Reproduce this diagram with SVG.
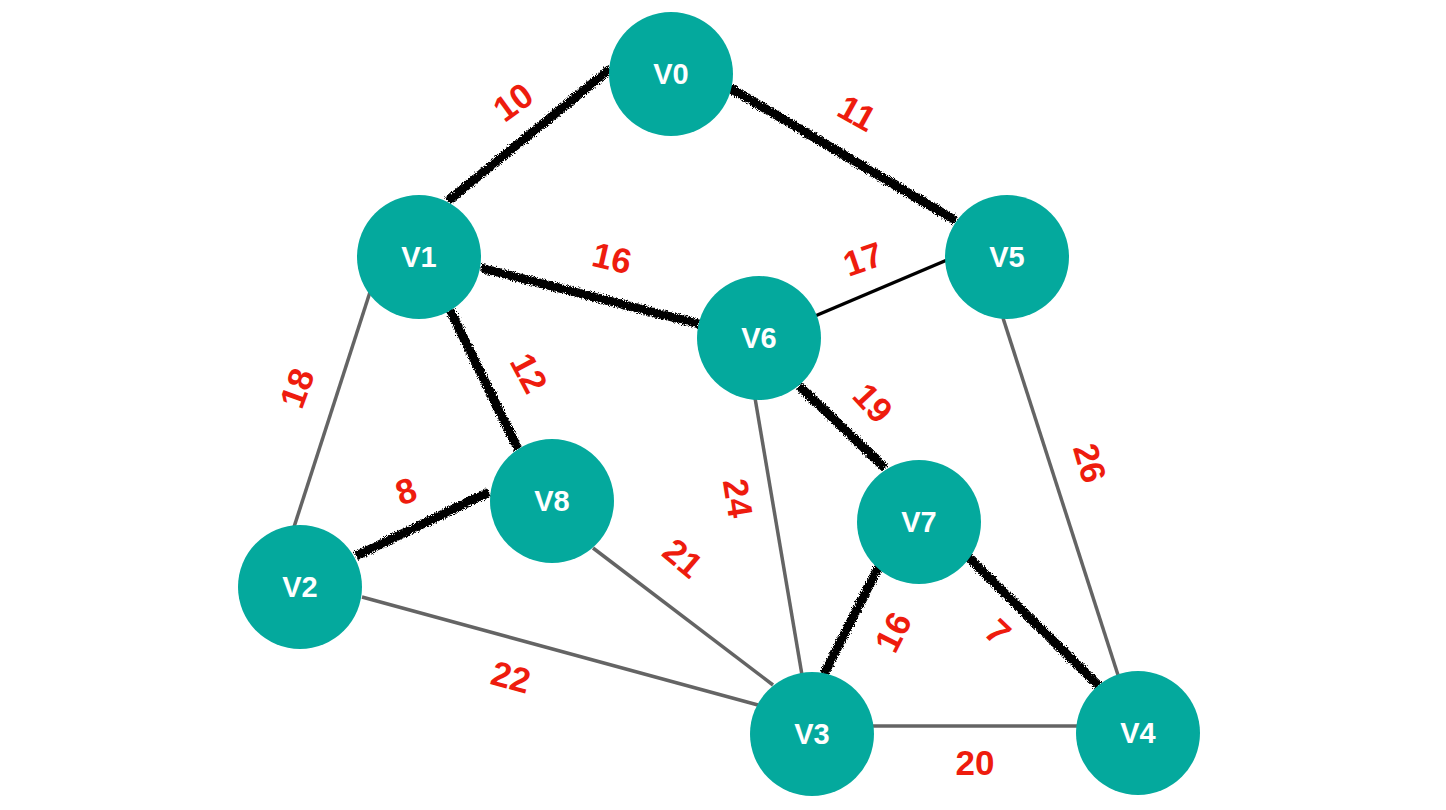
<svg xmlns="http://www.w3.org/2000/svg" width="1446" height="810" viewBox="0 0 1446 810">
<style>
.node circle{fill:#04a99d}
.node text{fill:#fff;font-family:"Liberation Sans",Arial,sans-serif;font-weight:bold;font-size:29px;text-anchor:middle}
.gray{stroke:#646464;stroke-width:3.5;fill:none}
.thin{stroke:#000;stroke-width:3.5;fill:none}
.mst{stroke:#000;stroke-width:9;fill:none;filter:url(#rough)}
.lbl{fill:#ee1c0e;font-family:"Liberation Sans",Arial,sans-serif;font-weight:bold;font-size:35px;text-anchor:middle}
</style>
<defs>
<filter id="rough" filterUnits="userSpaceOnUse" x="0" y="0" width="1446" height="810">
<feTurbulence type="fractalNoise" baseFrequency="1.1" numOctaves="2" seed="3" result="n"/>
<feDisplacementMap in="SourceGraphic" in2="n" scale="6" xChannelSelector="R" yChannelSelector="G"/>
</filter>
</defs>
<rect width="1446" height="810" fill="#fff"/>
<g id="connectors">
<line class="gray" x1="371" y1="289" x2="294" y2="527"/>
<line class="gray" x1="362" y1="597" x2="758" y2="705"/>
<line class="gray" x1="593" y1="548" x2="773" y2="685"/>
<line class="gray" x1="755" y1="398" x2="802" y2="675"/>
<line class="gray" x1="1003" y1="318" x2="1118" y2="675"/>
<line class="gray" x1="872" y1="726" x2="1078" y2="726"/>
<line class="thin" x1="815" y1="316" x2="947" y2="260"/>
<line class="mst" x1="610" y1="69" x2="448" y2="201"/>
<line class="mst" x1="730" y1="88" x2="956" y2="221"/>
<line class="mst" x1="481" y1="268" x2="699" y2="324"/>
<line class="mst" x1="450" y1="310" x2="518" y2="449"/>
<line class="mst" x1="489" y1="492" x2="356" y2="556"/>
<line class="mst" x1="799" y1="386" x2="885" y2="468"/>
<line class="mst" x1="879" y1="566" x2="824" y2="674"/>
<line class="mst" x1="968" y1="557" x2="1099" y2="686"/>
</g>
<g id="labels">
<text class="lbl" dy="0.35em" transform="translate(513,102) rotate(-36)">10</text>
<text class="lbl" dy="0.35em" transform="translate(857,113) rotate(29)">11</text>
<text class="lbl" dy="0.35em" transform="translate(612,258) rotate(13)">16</text>
<text class="lbl" dy="0.35em" transform="translate(863,259) rotate(-19)">17</text>
<text class="lbl" dy="0.35em" transform="translate(529,373) rotate(62)">12</text>
<text class="lbl" dy="0.35em" transform="translate(297,388) rotate(-70)">18</text>
<text class="lbl" dy="0.35em" transform="translate(406,491) rotate(-19)">8</text>
<text class="lbl" dy="0.35em" transform="translate(683,558) rotate(40)">21</text>
<text class="lbl" dy="0.35em" transform="translate(738,498) rotate(81)">24</text>
<text class="lbl" dy="0.35em" transform="translate(873,403) rotate(47)">19</text>
<text class="lbl" dy="0.35em" transform="translate(1090,463) rotate(74)">26</text>
<text class="lbl" dy="0.35em" transform="translate(893,632) rotate(-63)">16</text>
<text class="lbl" dy="0.35em" transform="translate(998,632) rotate(44)">7</text>
<text class="lbl" dy="0.35em" transform="translate(511,677) rotate(15)">22</text>
<text class="lbl" dy="0.35em" transform="translate(975,763)">20</text>
</g>
<g id="V0" class="node"><circle cx="671" cy="74" r="62"/><text x="671" y="84">V0</text></g>
<g id="V1" class="node"><circle cx="419" cy="257" r="62"/><text x="419" y="267">V1</text></g>
<g id="V5" class="node"><circle cx="1007" cy="257" r="62"/><text x="1007" y="267">V5</text></g>
<g id="V6" class="node"><circle cx="759" cy="338" r="62"/><text x="759" y="348">V6</text></g>
<g id="V8" class="node"><circle cx="552" cy="501" r="62"/><text x="552" y="511">V8</text></g>
<g id="V7" class="node"><circle cx="919" cy="522" r="62"/><text x="919" y="532">V7</text></g>
<g id="V2" class="node"><circle cx="300" cy="587" r="62"/><text x="300" y="597">V2</text></g>
<g id="V3" class="node"><circle cx="812" cy="734" r="62"/><text x="812" y="744">V3</text></g>
<g id="V4" class="node"><circle cx="1138" cy="733" r="62"/><text x="1138" y="743">V4</text></g>
</svg>
